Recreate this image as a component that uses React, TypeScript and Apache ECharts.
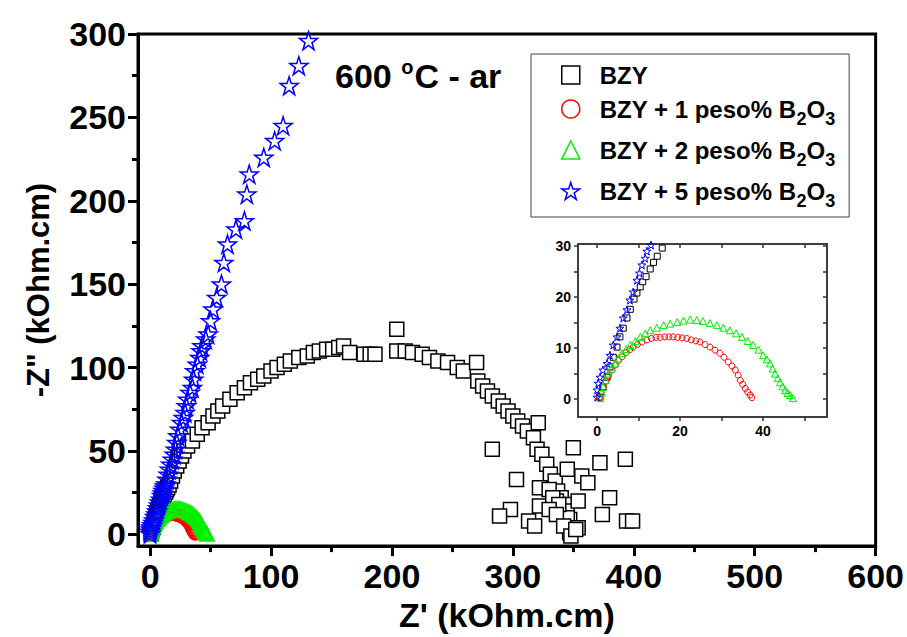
import React, { useEffect, useRef } from 'react';
import * as echarts from 'echarts';

const FONT = '"Liberation Sans", Arial, Helvetica, sans-serif';

const seriesNames = ['BZY', 'BZY + 1 peso% B2O3', 'BZY + 2 peso% B2O3', 'BZY + 5 peso% B2O3'];
const legendLabels = [
  '{f|BZY}',
  '{f|BZY + 1 peso% B}{s|2}{a|O}{s|3}',
  '{f|BZY + 2 peso% B}{s|2}{a|O}{s|3}',
  '{f|BZY + 5 peso% B}{s|2}{a|O}{s|3}',
];
const seriesColors = ['#000000', '#ff0000', '#00ee00', '#0000ff'];

const mainXTicks = [0, 100, 200, 300, 400, 500, 600];
const mainXMinor = [50, 150, 250, 350, 450, 550];
const mainYTicks = [0, 50, 100, 150, 200, 250, 300];
const mainYMinor = [25, 75, 125, 175, 225, 275];
const insetXLabels = [0, 20, 40];
const insetXTicks = [0, 10, 20, 30, 40, 50];
const insetYLabels = [0, 10, 20, 30];
const insetYTicks = [0, 5, 10, 15, 20, 25, 30];

// BZY (black squares): Z', -Z'' in kOhm.cm
const bzy: number[][] = [
  [0.7, 0.4], [1.4, 2.4], [2.4, 4.3], [3.1, 6.3], [3.9, 8.2], [4.8, 10.2], [5.5, 12.2], [6.3, 13.9],
  [7.2, 15.9], [8, 17.6], [8.9, 19.6], [9.6, 20.8], [10.4, 22], [11, 23], [11.8, 24], [12.8, 25.5],
  [13.6, 26.8], [14.5, 28], [15.7, 29.6], [17, 32], [18.5, 35], [20, 38], [22, 41], [24, 44], [26, 47],
  [28, 50], [31, 53], [35, 56], [39, 60], [43, 64], [48, 67], [52, 71], [56, 74], [60, 77], [66, 81],
  [72, 85], [78, 88], [83, 91], [89, 93], [94, 95], [100, 98], [105, 100], [111, 102], [116, 104],
  [123, 106], [130, 107], [135, 109], [140, 110], [146, 111], [151, 111], [156, 112], [160, 113],
  [165, 109], [177, 108], [182, 108], [186, 108], [204, 110], [204, 123], [211, 110], [217, 109],
  [225, 108], [231, 106], [238, 104], [246, 103], [254, 100], [259, 98], [270, 103], [271, 92],
  [275, 89], [279, 86], [283, 83], [288, 80], [292, 77], [296, 74], [300, 71], [304, 68], [308, 65],
  [312, 62], [317, 58], [321, 67], [320, 51], [324, 48], [328, 42], [331, 36], [335, 32], [337, 26],
  [340, 22], [343, 18], [345, 14], [347, 9], [347, 2],
  [283, 51], [350, 52], [393, 45], [372, 43], [303, 33], [357, 35], [362, 31], [322, 28], [345, 39],
  [380, 22], [354, 20], [322, 17], [298, 15], [289, 11], [374, 12], [345, 10], [313, 8], [318, 5],
  [394, 8], [399, 8], [354, 4], [347, 1], [336, 20], [330, 27], [333, 22], [338, 18], [330, 15],
  [336, 12], [342, 5], [348, -1], [352, 3],
];

// BZY + 1 peso% B2O3 (red circles)
const bzy1: number[][] = [
  [0.6, 0.3], [1.0, 1.3], [1.5, 2.4], [2.1, 3.5], [2.8, 4.6], [3.6, 5.7], [4.4, 6.7], [5.2, 7.6],
  [6, 8.3], [7, 9.1], [7.9, 9.7], [8.7, 10.2], [9.7, 10.7], [10.8, 11.2], [12, 11.6], [13.1, 11.9],
  [14.2, 12.1], [15.2, 12.1], [16.3, 12.2], [17.3, 12.2], [18.3, 12.2], [19.4, 12.1], [20.5, 12.0],
  [21.6, 11.9], [22.7, 11.6], [23.8, 11.4], [24.8, 11.2], [26, 10.7], [27.2, 10.2], [28.4, 9.6],
  [29.6, 9.0], [30.6, 8.2], [31.6, 7.3], [32.5, 6.5], [33.3, 5.7], [34, 4.7], [34.5, 3.7], [35.1, 2.9],
  [35.7, 2.1], [36.3, 1.4], [36.9, 0.8], [37.3, 0.3],
];

// BZY + 2 peso% B2O3 (green triangles)
const bzy2: number[][] = [
  [0.7, 0.2], [1.1, 1.3], [1.5, 2.4], [2.1, 3.7], [2.7, 5], [3.5, 6], [4.3, 7], [5.1, 8], [6, 9],
  [7, 9.8], [8, 10.6], [9.2, 11.4], [10.4, 12.2], [11.6, 12.9], [12.8, 13.5], [14.4, 14], [16, 14.5],
  [17.6, 14.8], [19.3, 15.1], [20.8, 15.4], [22.4, 15.6], [24, 15.5], [25.5, 15.3], [27.2, 14.9],
  [28.9, 14.5], [30.4, 14], [32, 13.5], [33.5, 12.9], [34.9, 12.2], [36.3, 11.4], [37.6, 10.6],
  [38.9, 9.7], [40, 8.6], [40.9, 7.8], [41.7, 7], [42.3, 6], [42.9, 5], [43.5, 4.1], [44.1, 3.3],
  [44.7, 2.5], [45.3, 1.8], [45.9, 1.2], [46.5, 0.8], [47.2, 0.2],
];

// BZY + 5 peso% B2O3 (blue stars)
const bzy5: number[][] = [
  [0, 0.4], [0, 1.8], [0.3, 3.1], [0.7, 4.3], [1.4, 5.7], [2.4, 7], [3.1, 8.6], [3.9, 10.6], [4.8, 12.2],
  [5.5, 13.9], [6.3, 15.9], [7.2, 17.5], [7.9, 19.4], [8.7, 21], [9.6, 23.3], [10.2, 24.7], [10.8, 26.3],
  [11.6, 27.6], [12, 29], [13, 30.2], [14, 33], [15, 36], [16, 39], [17, 42], [18.5, 45], [20, 48],
  [21, 51], [22, 55], [23, 59], [24.5, 63], [26, 67], [27.5, 70], [29, 73], [30, 77], [31, 81], [33, 85],
  [35, 88], [36, 93], [37, 98], [39, 102], [41, 106], [42, 110], [43, 113], [46, 117], [48, 120],
  [50, 128], [52, 135], [55, 142], [59, 150], [61, 163], [64, 174], [71, 183], [78, 188], [80, 204],
  [82, 216], [94, 226], [103, 236], [110, 245], [115, 269], [123, 281], [131, 296],
];

const STAR =
  'path://M50,0L61.2,34.5L97.6,34.5L68.2,55.9L79.4,90.5L50,69.1L20.6,90.5L31.8,55.9L2.4,34.5L38.8,34.5Z';

const seriesData = [bzy, bzy1, bzy2, bzy5];
const seriesSymbols = ['rect', 'circle', 'triangle', STAR];
const mainSizes = [14, 12, 14, 18];
const insetSizes = [6, 6, 7, 8];
const fills = ['#ffffff', 'rgba(0,0,0,0)', 'rgba(0,0,0,0)', 'rgba(0,0,0,0)'];

export default function App() {
  const ref = useRef<HTMLDivElement>(null);
  useEffect(() => {
    if (!ref.current) return;
    const chart = echarts.init(ref.current, undefined, { renderer: 'svg' });

    const bigLabel = { fontSize: 34, fontWeight: 'bold', color: '#000', fontFamily: FONT };
    const smallLabel = { fontSize: 14, fontWeight: 'bold', color: '#000', fontFamily: FONT };
    const thick = { color: '#000', width: 3 };
    const thin = { color: '#333', width: 1.5 };

    const mainSeries = seriesNames.map((n, i) => ({
      type: 'scatter',
      name: n,
      xAxisIndex: 0,
      yAxisIndex: 0,
      data: seriesData[i],
      symbol: seriesSymbols[i],
      symbolSize: mainSizes[i],
      itemStyle: { color: fills[i], borderColor: seriesColors[i], borderWidth: 1.5, opacity: 1 },
      emphasis: { disabled: true },
    }));
    const insetSeries = seriesNames.map((n, i) => ({
      type: 'scatter',
      name: n,
      xAxisIndex: 2,
      yAxisIndex: 2,
      data: seriesData[i],
      symbol: seriesSymbols[i],
      symbolSize: insetSizes[i],
      clip: true,
      itemStyle: { color: fills[i], borderColor: seriesColors[i], borderWidth: 1, opacity: 1 },
      emphasis: { disabled: true },
    }));

    const noZero = { onZero: false };

    chart.setOption({
      animation: false,
      backgroundColor: '#ffffff',
      textStyle: { fontFamily: FONT },
      grid: [
        { left: 138, right: 31, top: 34, bottom: 81, show: true, borderColor: '#000', borderWidth: 3, containLabel: false },
        { left: 578, right: 80, top: 244, bottom: 220, show: true, borderColor: '#333', borderWidth: 1.5, containLabel: false },
      ],
      xAxis: [
        {
          type: 'value', gridIndex: 0, position: 'bottom', min: -10, max: 600,
          name: "Z' (kOhm.cm)", nameLocation: 'middle', nameGap: 46,
          nameTextStyle: { fontSize: 34, fontWeight: 'bold', color: '#000', fontFamily: FONT },
          axisLine: { show: true, ...noZero, lineStyle: thick },
          axisTick: { show: true, customValues: mainXTicks, length: 10, lineStyle: thick },
          axisLabel: { show: true, customValues: mainXTicks, margin: 13, ...bigLabel },
          splitLine: { show: false },
        },
        {
          type: 'value', gridIndex: 0, position: 'bottom', min: -10, max: 600,
          axisLine: { show: false, ...noZero },
          axisTick: { show: true, customValues: mainXMinor, length: 6, lineStyle: thick },
          axisLabel: { show: false },
          splitLine: { show: false },
        },
        {
          type: 'value', gridIndex: 1, position: 'bottom', min: -4.6, max: 55.4,
          axisLine: { show: true, ...noZero, lineStyle: thin },
          axisTick: { show: true, customValues: insetXTicks, length: 4, lineStyle: thin },
          axisLabel: { show: true, customValues: insetXLabels, margin: 7, ...smallLabel },
          splitLine: { show: false },
        },
        {
          type: 'value', gridIndex: 1, position: 'top', min: -4.6, max: 55.4,
          axisLine: { show: true, ...noZero, lineStyle: thin },
          axisTick: { show: true, inside: true, customValues: insetXTicks, length: 4, lineStyle: thin },
          axisLabel: { show: false },
          splitLine: { show: false },
        },
      ],
      yAxis: [
        {
          type: 'value', gridIndex: 0, position: 'left', min: -7, max: 300,
          name: '-Z" (kOhm.cm)', nameLocation: 'middle', nameGap: 84,
          nameTextStyle: { fontSize: 31, fontWeight: 'bold', color: '#000', fontFamily: FONT },
          axisLine: { show: true, ...noZero, lineStyle: thick },
          axisTick: { show: true, customValues: mainYTicks, length: 10, lineStyle: thick },
          axisLabel: { show: true, customValues: mainYTicks, margin: 12, ...bigLabel },
          splitLine: { show: false },
        },
        {
          type: 'value', gridIndex: 0, position: 'left', min: -7, max: 300,
          axisLine: { show: false, ...noZero },
          axisTick: { show: true, customValues: mainYMinor, length: 6, lineStyle: thick },
          axisLabel: { show: false },
          splitLine: { show: false },
        },
        {
          type: 'value', gridIndex: 1, position: 'left', min: -3.5, max: 30.4,
          axisLine: { show: true, ...noZero, lineStyle: thin },
          axisTick: { show: true, customValues: insetYTicks, length: 4, lineStyle: thin },
          axisLabel: { show: true, customValues: insetYLabels, margin: 7, ...smallLabel },
          splitLine: { show: false },
        },
        {
          type: 'value', gridIndex: 1, position: 'right', min: -3.5, max: 30.4,
          axisLine: { show: true, ...noZero, lineStyle: thin },
          axisTick: { show: true, inside: true, customValues: insetYTicks, length: 4, lineStyle: thin },
          axisLabel: { show: false },
          splitLine: { show: false },
        },
      ],
      legend: {
        orient: 'vertical',
        left: 531,
        top: 54,
        padding: [9, 14, 7, 30],
        itemGap: 10,
        itemWidth: 18,
        itemHeight: 18,
        symbolKeepAspect: true,
        borderColor: '#444',
        borderWidth: 1,
        selectedMode: false,
        formatter: (name: string) => legendLabels[seriesNames.indexOf(name)],
        textStyle: {
          color: '#000',
          rich: {
            f: { fontSize: 24, fontWeight: 'bold', color: '#000', fontFamily: FONT, padding: [0, 0, 0, 15] },
            a: { fontSize: 24, fontWeight: 'bold', color: '#000', fontFamily: FONT },
            s: { fontSize: 18, fontWeight: 'bold', color: '#000', fontFamily: FONT, padding: [20, 0, 0, 0] },
          },
        },
        data: seriesNames.map((n, i) => ({
          name: n,
          icon: seriesSymbols[i],
          itemStyle: { color: '#ffffff', borderColor: seriesColors[i], borderWidth: 1.5 },
        })),
      },
      graphic: [
        {
          type: 'text',
          x: 335,
          y: 76,
          style: {
            text: '{a|600 }{s|o}{a|C - ar}',
            verticalAlign: 'middle',
            align: 'left',
            rich: {
              a: { fontSize: 34, fontWeight: 'bold', fill: '#000', fontFamily: FONT },
              s: { fontSize: 20, fontWeight: 'bold', fill: '#000', fontFamily: FONT, padding: [0, 1, 18, 0] },
            },
          },
        },
      ],
      series: [...mainSeries, ...insetSeries],
    });

    return () => chart.dispose();
  }, []);

  return (
    <div
      ref={ref}
      style={{ position: 'fixed', left: 0, top: 0, width: 907, height: 637, background: '#fff' }}
    />
  );
}
